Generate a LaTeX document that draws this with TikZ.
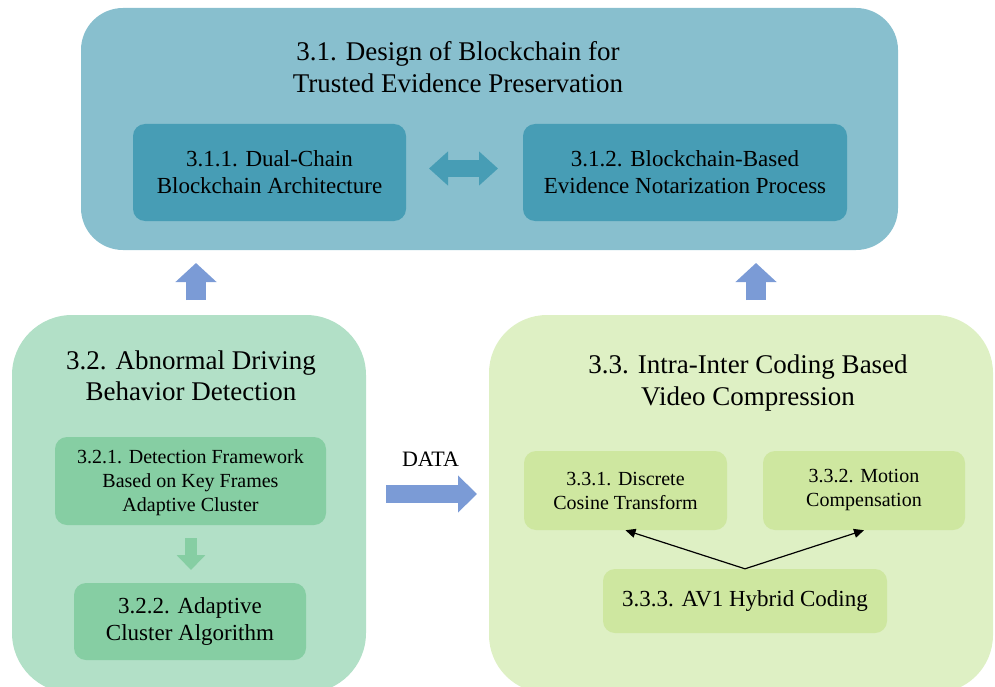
\documentclass[tikz,border=0pt]{standalone}
\usepackage{fontspec}
\setmainfont{Liberation Serif}
\usetikzlibrary{arrows.meta}

\definecolor{tealOuter}{RGB}{136,191,206}
\definecolor{tealInner}{RGB}{71,157,181}
\definecolor{mintOuter}{RGB}{178,224,199}
\definecolor{mintInner}{RGB}{134,206,163}
\definecolor{limeOuter}{RGB}{222,240,196}
\definecolor{limeInner}{RGB}{206,231,160}
\definecolor{flowBlue}{RGB}{123,155,214}

\tikzset{
  panel/.style={draw=none, rectangle, inner sep=0pt},
  titletext/.style={font=\fontsize{27}{31.5}\selectfont, align=center, inner sep=0pt},
  subtext/.style={font=\fontsize{23}{27}\selectfont, align=center, inner sep=0pt},
  smalltext/.style={font=\fontsize{20}{24}\selectfont, align=center, inner sep=0pt},
  bigup/.style={draw=flowBlue, line width=20pt, -{Triangle[length=19pt,width=40pt]}},
  dataflow/.style={draw=flowBlue, line width=18pt, -{Triangle[length=19pt,width=36pt]}},
  linkboth/.style={draw=tealInner, line width=17pt,
    {Triangle[length=19pt,width=33pt]}-{Triangle[length=19pt,width=33pt]}},
  stepdown/.style={draw=mintInner, line width=12pt, -{Triangle[length=15pt,width=28pt]}},
  thinarrow/.style={draw=black, line width=1.2pt, -{Triangle[length=10pt,width=9pt]}}
}

\begin{document}
\begin{tikzpicture}[x=1pt,y=-1pt]
\useasboundingbox (0,0) rectangle (995,687);

% ---- 3.1 blockchain panel ----
\node[panel, fill=tealOuter, minimum width=817pt, minimum height=242pt,
      rounded corners=42pt] (p31) at (489.5,129) {};
\node[titletext] (t31) at (458,67) {3.1. Design of Blockchain for\\Trusted Evidence Preservation};
\node[panel, fill=tealInner, minimum width=273pt, minimum height=97pt,
      rounded corners=12pt, subtext] (b311) at (269.5,172.5)
      {3.1.1. Dual-Chain\\Blockchain Architecture};
\node[panel, fill=tealInner, minimum width=324pt, minimum height=97pt,
      rounded corners=12pt, subtext] (b312) at (685,172.5)
      {3.1.2. Blockchain-Based\\Evidence Notarization Process};

% ---- 3.2 detection panel ----
\node[panel, fill=mintOuter, minimum width=354pt, minimum height=378pt,
      rounded corners=60pt] (p32) at (189,504) {};
\node[titletext] (t32) at (191,376) {3.2. Abnormal Driving\\Behavior Detection};
\node[panel, fill=mintInner, minimum width=271pt, minimum height=88pt,
      rounded corners=12pt] (b321) at (190.5,481) {};
\node[smalltext] (t321) at (190.5,483)
      {3.2.1. Detection Framework\\Based on Key Frames\\Adaptive Cluster};
\node[panel, fill=mintInner, minimum width=232pt, minimum height=77pt,
      rounded corners=12pt, subtext] (b322) at (190,621.5)
      {3.2.2. Adaptive\\Cluster Algorithm};

% ---- 3.3 compression panel ----
\node[panel, fill=limeOuter, minimum width=504pt, minimum height=378pt,
      rounded corners=58pt] (p33) at (741,504) {};
\node[titletext] (t33) at (748,383) {3.3. Intra-Inter Coding Based\\Video Compression};
\node[panel, fill=limeInner, minimum width=203pt, minimum height=79pt,
      rounded corners=12pt, smalltext] (b331) at (625.5,490.5)
      {3.3.1. Discrete\\Cosine Transform};
\node[panel, fill=limeInner, minimum width=202pt, minimum height=79pt,
      rounded corners=12pt, smalltext] (b332) at (864,490.5)
      {3.3.2. Motion\\Compensation};
\node[panel, fill=limeInner, minimum width=284pt, minimum height=64pt,
      rounded corners=12pt, subtext] (b333) at (745,601)
      {3.3.3. AV1 Hybrid Coding};

% ---- DATA label ----
\node[font=\fontsize{22}{26}\selectfont, inner sep=0pt] (lbl) at (430.5,459) {DATA};

% ---- connector anchor points ----
\coordinate (upLfrom) at (196,316);
\coordinate (upLto)   at (196,251);
\coordinate (upRfrom) at (756,316);
\coordinate (upRto)   at (756,251);
\coordinate (linkL) at (406,168.5);
\coordinate (linkR) at (523,168.5);
\coordinate (dataL) at (366,494);
\coordinate (dataR) at (489,494);
\coordinate (stepA) at (191,525);
\coordinate (stepB) at (191,583);

% ---- connectors ----
\draw[bigup, shorten <=16pt, shorten >=12pt] (upLfrom) -- (upLto);
\draw[bigup, shorten <=16pt, shorten >=12pt] (upRfrom) -- (upRto);
\draw[linkboth, shorten <=23pt, shorten >=25pt] (linkL) -- (linkR);
\draw[dataflow, shorten <=20pt, shorten >=12pt] (dataL) -- (dataR);
\draw[stepdown, shorten <=13pt, shorten >=13pt] (stepA) -- (stepB);
\draw[thinarrow] (b333.north) -- (b331.south);
\draw[thinarrow] (b333.north) -- (b332.south);
\end{tikzpicture}
\end{document}
